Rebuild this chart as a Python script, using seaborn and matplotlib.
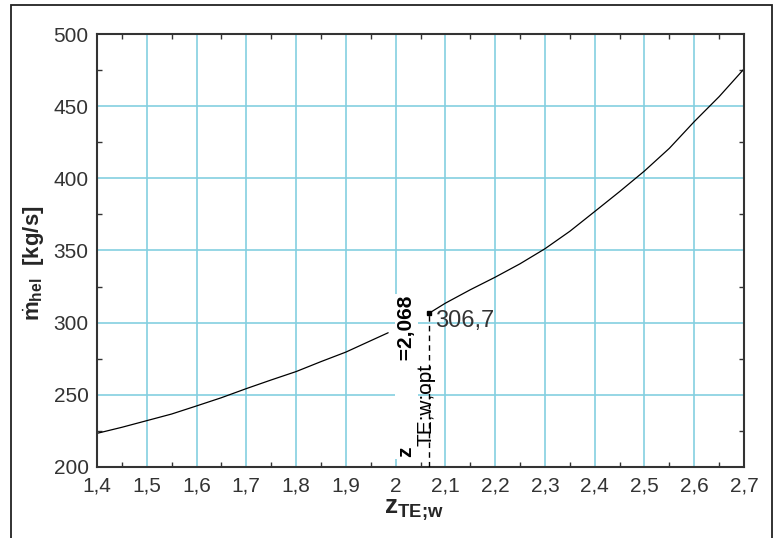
import matplotlib
matplotlib.use('Agg')
import matplotlib.pyplot as plt
from matplotlib.patches import Rectangle
from matplotlib.ticker import FixedLocator, MultipleLocator
import seaborn as sns
import pandas as pd

# curve (gap where the label sits)
z_curve = [1.40, 1.45, 1.50, 1.55, 1.60, 1.65, 1.70, 1.75, 1.80, 1.85, 1.90, 1.95, 1.985,
           2.068, 2.10, 2.15, 2.20, 2.25, 2.30, 2.35, 2.40, 2.45, 2.50, 2.55, 2.60, 2.65, 2.70]
m_curve = [223.3, 227.5, 232.1, 236.7, 242.3, 248.0, 254.3, 260.3, 266.1, 273.0, 279.6, 287.5, 293.0,
           306.7, 313.5, 322.8, 331.5, 340.8, 351.2, 363.3, 377.0, 390.8, 405.1, 420.8, 439.3, 456.6, 475.8]

z_opt = 2.068
m_opt = 306.7
m_opt_label = "306,7"
z_opt_label = "=2,068"

x_ticks = [1.4, 1.5, 1.6, 1.7, 1.8, 1.9, 2.0, 2.1, 2.2, 2.3, 2.4, 2.5, 2.6, 2.7]
x_ticklabels = ["1,4", "1,5", "1,6", "1,7", "1,8", "1,9", "2", "2,1", "2,2", "2,3", "2,4", "2,5", "2,6", "2,7"]
y_ticks = [200, 250, 300, 350, 400, 450, 500]

sns.set_style("ticks")
plt.rcParams['font.family'] = ['Liberation Sans', 'DejaVu Sans']
plt.rcParams['mathtext.fontset'] = 'custom'
plt.rcParams['mathtext.rm'] = 'Liberation Sans'
plt.rcParams['mathtext.it'] = 'Liberation Sans:italic'
plt.rcParams['mathtext.bf'] = 'Liberation Sans:bold'

df = pd.DataFrame({'z': z_curve, 'm': m_curve})
left = df[df.z < z_opt - 0.01]
right = df[df.z >= z_opt]

fig = plt.figure(figsize=(7.79, 5.38), dpi=100)
ax = fig.add_axes([0.1245, 0.132, 0.8306, 0.8048])

grid_col = '#84cfe0'
spine_col = '#333333'

sns.lineplot(x='z', y='m', data=left, ax=ax, color='black', lw=0.9, zorder=2)
sns.lineplot(x='z', y='m', data=right, ax=ax, color='black', lw=0.9, zorder=2)

# optimum marker + dashed drop line
ax.plot([z_opt, z_opt], [200, m_opt], color='black', lw=1.0, ls=(0, (4, 3)), zorder=5)
ax.plot([z_opt], [m_opt], marker='s', ms=3, color='black', zorder=6)
ax.text(z_opt + 0.011, m_opt - 5.5, m_opt_label, fontsize=17, color=spine_col,
        ha='left', va='center', zorder=6)

# vertical annotation: bold main line (white background) + subscript
ax.text(2.033, 206.9, "z" + " " * 15 + z_opt_label, rotation=90, rotation_mode='anchor',
        ha='left', va='baseline', fontsize=15, fontweight='bold', color='black', zorder=4,
        bbox=dict(facecolor='white', edgecolor='none', pad=1.5))
ax.text(2.073, 214.5, "TE;w;opt", rotation=90, rotation_mode='anchor',
        ha='left', va='baseline', fontsize=15, color='black', zorder=4)

ax.set_xlim(1.4, 2.7)
ax.set_ylim(200, 500)
ax.xaxis.set_major_locator(FixedLocator(x_ticks))
ax.set_xticklabels(x_ticklabels)
ax.yaxis.set_major_locator(FixedLocator(y_ticks))
ax.xaxis.set_minor_locator(MultipleLocator(0.05))
ax.yaxis.set_minor_locator(MultipleLocator(25))

ax.grid(True, which='major', color=grid_col, lw=1.2, zorder=0)
ax.set_axisbelow(True)
ax.tick_params(which='major', direction='in', length=0, labelsize=15, labelcolor=spine_col,
               top=True, right=True, pad=7)
ax.tick_params(axis='y', which='major', pad=6)
ax.tick_params(which='minor', direction='in', length=3.5, width=1, color=spine_col,
               top=True, right=True)
for s in ax.spines.values():
    s.set_color(spine_col)
    s.set_linewidth(1.5)

ax.set_xlabel(r"$\mathbf{z}_{\mathbf{TE;\!w}}$", fontsize=19)
ax.set_ylabel(r"$\dot{\mathbf{m}}_{\mathbf{hel}}$  [kg/s]", fontsize=16, fontweight='bold')
ax.xaxis.set_label_coords(0.49, -0.07)
ax.yaxis.set_label_coords(-0.077, 0.47)

# outer frame around the figure
fig.add_artist(Rectangle((11 / 779, -0.1), 761 / 779, 1.1 - 5 / 538, transform=fig.transFigure,
                         fill=False, edgecolor='#222222', lw=1.3))

fig.savefig('out.png', dpi=100)
